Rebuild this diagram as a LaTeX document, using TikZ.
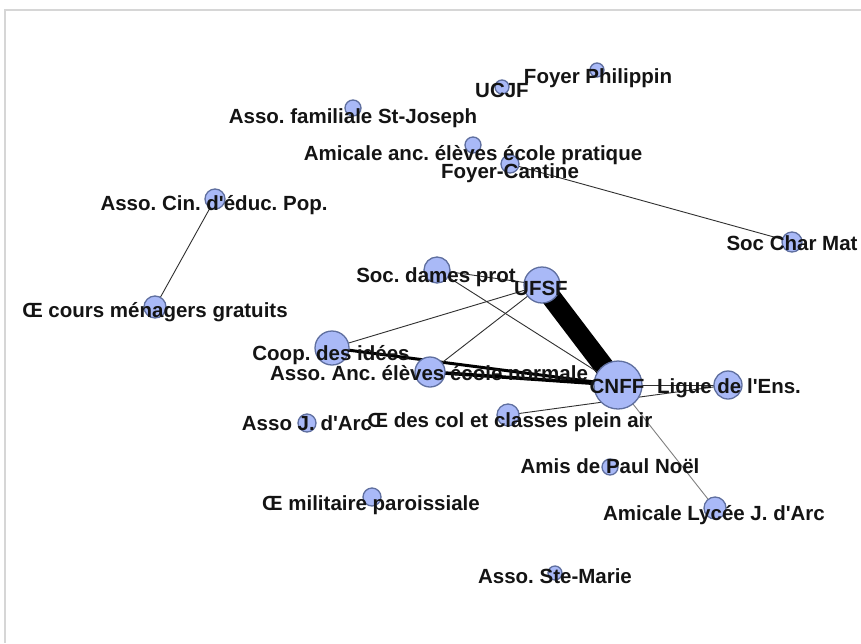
\documentclass[tikz,border=0pt]{standalone}
\usepackage{fontspec}
\setmainfont{Liberation Sans}
\frenchspacing
\pgfdeclarelayer{bg}
\pgfsetlayers{bg,main}
\definecolor{nodefill}{HTML}{A9B9F7}
\definecolor{nodedraw}{HTML}{5F6F9F}
\definecolor{edgecol}{HTML}{303030}
\definecolor{framecol}{HTML}{D6D6D6}
\newcommand{\ap}{\textquotesingle}
\begin{document}
\begin{tikzpicture}[x=1pt,y=-1pt,
  vert/.style={circle,fill=nodefill,draw=nodedraw,line width=1.3pt,inner sep=0pt,minimum size=#1},
  lab/.style={anchor=base,inner sep=0pt,font=\bfseries\fontsize{20.5}{24}\selectfont,text=black!92},
  edge/.style={draw=edgecol,line width=0.9pt},
  thickedge/.style={draw=black,line width=#1}]
\useasboundingbox (0,0) rectangle (861,643);
% vertices
\node[vert=14pt] (fph) at (597,70) {};
\node[vert=14pt] (ucjf) at (502,87) {};
\node[vert=16pt] (stj) at (353,108) {};
\node[vert=16pt] (aep) at (473,145) {};
\node[vert=18pt] (fca) at (510,164) {};
\node[vert=20pt] (scm) at (792,242) {};
\node[vert=20pt] (cin) at (215,199) {};
\node[vert=22pt] (ocm) at (155,307) {};
\node[vert=26pt] (sdp) at (437,270) {};
\node[vert=36pt] (ufsf) at (542,285) {};
\node[vert=48pt] (cnff) at (618,385) {};
\node[vert=30pt] (aan) at (430,372) {};
\node[vert=22pt] (ocol) at (508,415) {};
\node[vert=34pt] (coop) at (332,348) {};
\node[vert=18pt] (ajd) at (307,423) {};
\node[vert=28pt] (lig) at (728,385) {};
\node[vert=16pt] (apn) at (610,467) {};
\node[vert=22pt] (aly) at (715,508) {};
\node[vert=18pt] (omp) at (372,497) {};
\node[vert=14pt] (stm) at (555,573) {};
% background, frame and edges
\begin{pgfonlayer}{bg}
\fill[white] (0,0) rectangle (861,643);
\draw[framecol,line width=1.2pt] (5,643) -- (5,10) -- (861,10);
\draw[thickedge=20pt] (ufsf.center) -- (cnff.center);
\draw[thickedge=3pt] (coop.center) -- (cnff.center);
\draw[thickedge=3.5pt] (aan.center) -- (cnff.center);
\draw[edge] (coop.center) -- (ufsf.center);
\draw[edge] (aan.center) -- (ufsf.center);
\draw[edge] (sdp.center) -- (ufsf.center);
\draw[edge] (sdp.center) -- (cnff.center);
\draw[edge] (cnff.center) -- (lig.center);
\draw[edge] (ocol.center) -- (lig.center);
\draw[draw=black!50,line width=0.9pt] (cnff.center) -- (aly.center);
\draw[edge] (fca.center) -- (scm.center);
\draw[edge] (cin.center) -- (ocm.center);
\end{pgfonlayer}
% labels
\node[lab] (l-fph) at (598,83) {Foyer Philippin};
\node[lab] (l-ucjf) at (502,97) {UCJF};
\node[lab] (l-stj) at (353,123) {Asso. familiale St-Joseph};
\node[lab] (l-aep) at (473,160) {Amicale anc. élèves école pratique};
\node[lab] (l-fca) at (510,178) {Foyer-Cantine};
\node[lab] (l-scm) at (792,250) {Soc Char Mat};
\node[lab] (l-cin) at (214,210) {Asso. Cin. d\ap éduc. Pop.};
\node[lab] (l-ocm) at (155,317) {Œ cours ménagers gratuits};
\node[lab] (l-sdp) at (436,282) {Soc. dames prot};
\node[lab] (l-ufsf) at (541,295) {UFSF};
\node[lab] (l-cnff) at (617,393) {CNFF};
\node[lab] (l-aan) at (429,380) {Asso. Anc. élèves école normale};
\node[lab] (l-ocol) at (510,427) {Œ des col et classes plein air};
\node[lab] (l-coop) at (331,360) {Coop. des idées};
\node[lab] (l-ajd) at (307,430) {Asso J. d\ap Arc};
\node[lab] (l-lig) at (729,393) {Ligue de l\ap Ens.};
\node[lab] (l-apn) at (610,473) {Amis de Paul Noël};
\node[lab] (l-aly) at (714,520) {Amicale Lycée J. d\ap Arc};
\node[lab] (l-omp) at (371,510) {Œ militaire paroissiale};
\node[lab] (l-stm) at (555,583) {Asso. Ste-Marie};
\end{tikzpicture}
\end{document}
